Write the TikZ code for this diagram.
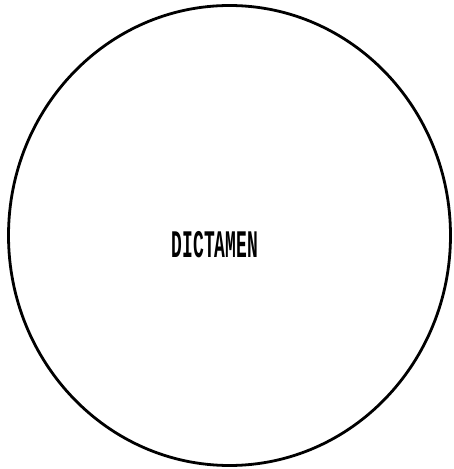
\documentclass[tikz,border=0pt]{standalone}
\usepackage{fontspec}
\setmainfont{Liberation Sans}
\newfontfamily\labelfont{Liberation Mono}
\begin{document}
\begin{tikzpicture}[x=1pt,y=1pt,
  outline/.style={draw=black,line width=2.8pt},
  label/.style={inner sep=0pt,font=\labelfont\bfseries\fontsize{39}{39}\selectfont}]
\useasboundingbox (0,0) rectangle (453,469);
\draw[outline] (229.5,233.5) ellipse [x radius=221, y radius=230];
\node[label] (t) at (215,224) {\scalebox{0.46}[1]{DICTAMEN}};
\end{tikzpicture}
\end{document}
